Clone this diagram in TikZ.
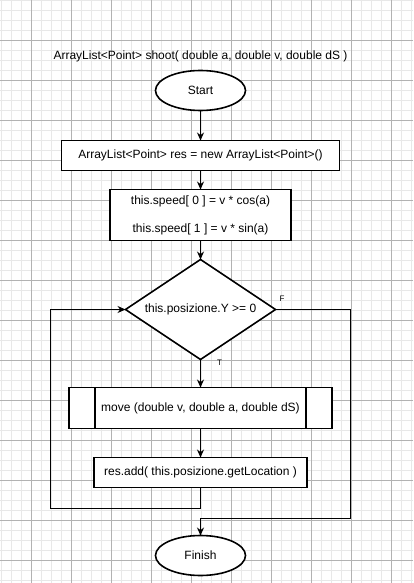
\documentclass[tikz,border=0pt]{standalone}
\usepackage{fontspec}
\setmainfont{Liberation Sans}
\usetikzlibrary{arrows.meta, positioning, shapes.geometric}

\begin{document}
\begin{tikzpicture}[
    x=1pt, y=-1pt,
    every node/.style={font=\fontsize{12}{14}\selectfont, inner sep=0pt, outer sep=0pt},
    term/.style={ellipse, draw, fill=white, line width=1.6pt, minimum width=90pt, minimum height=40pt},
    proc/.style={rectangle, draw, fill=white, line width=1.6pt, minimum height=30pt},
    cond/.style={diamond, aspect=1.5, draw, fill=white, line width=1.6pt, minimum width=150pt, minimum height=100pt},
    flow/.style={draw, line width=1pt, -{Stealth[length=8pt, width=7pt]}},
    branch/.style={font=\fontsize{8}{9}\selectfont},
    minorgrid/.style={draw=black!9, line width=0.8pt},
    majorgrid/.style={draw=black!30, line width=0.8pt},
    node distance=19pt
]

% Hintergrund und Raster
\fill[white] (0,0) rectangle (413,583);
\useasboundingbox (0,0) rectangle (413,583);
\foreach \gx in {1,11,...,411} \draw[minorgrid] (\gx,0) -- (\gx,583);
\foreach \gy in {0,10,...,580} \draw[minorgrid] (0,\gy) -- (413,\gy);
\foreach \gx in {31,71,...,391} \draw[majorgrid] (\gx,0) -- (\gx,583);
\foreach \gy in {40,80,...,560} \draw[majorgrid] (0,\gy) -- (413,\gy);

% Knoten
\node (title) at (200.5,56) {ArrayList<Point> shoot( double a, double v, double dS )};
\node[term] (start) at (200.5,90.5) {Start};
\node[proc, below=30pt of start, minimum width=278pt] (init) {ArrayList<Point> res = new ArrayList<Point>()};
\node[proc, below=of init, minimum width=181pt, minimum height=51pt, align=center] (speed)
    {this.speed[ 0 ] = v * cos(a)\\[14pt]this.speed[ 1 ] = v * sin(a)};
\node[cond, below=of speed] (check) {this.posizione.Y >= 0};
\node[proc, below=28pt of check, minimum width=263pt, minimum height=41pt] (move) {move (double v, double a, double dS)};
\draw[line width=1.6pt] ([xshift=26pt]move.north west) -- ([xshift=26pt]move.south west);
\draw[line width=1.6pt] ([xshift=-26pt]move.north east) -- ([xshift=-26pt]move.south east);
\node[proc, below=29pt of move, minimum width=213pt] (add) {res.add( this.posizione.getLocation )};
\node[term, below=48pt of add] (finish) {Finish};

\node[branch] (flabel) at (282,299) {F};
\node[branch] (tlabel) at (219.5,362.5) {T};

% Verbindungen
\coordinate (backpt) at (50,508);
\coordinate (exitpt) at (350,518);
\draw[flow] (start) -- (init);
\draw[flow] (init) -- (speed);
\draw[flow] (speed) -- (check);
\draw[flow] (check) -- (move);
\draw[flow] (move) -- (add);
\draw[flow] (add.south) |- (backpt) |- (check.west);
\draw[flow] (check.east) -| (exitpt) -| (finish.north);

\end{tikzpicture}
\end{document}
